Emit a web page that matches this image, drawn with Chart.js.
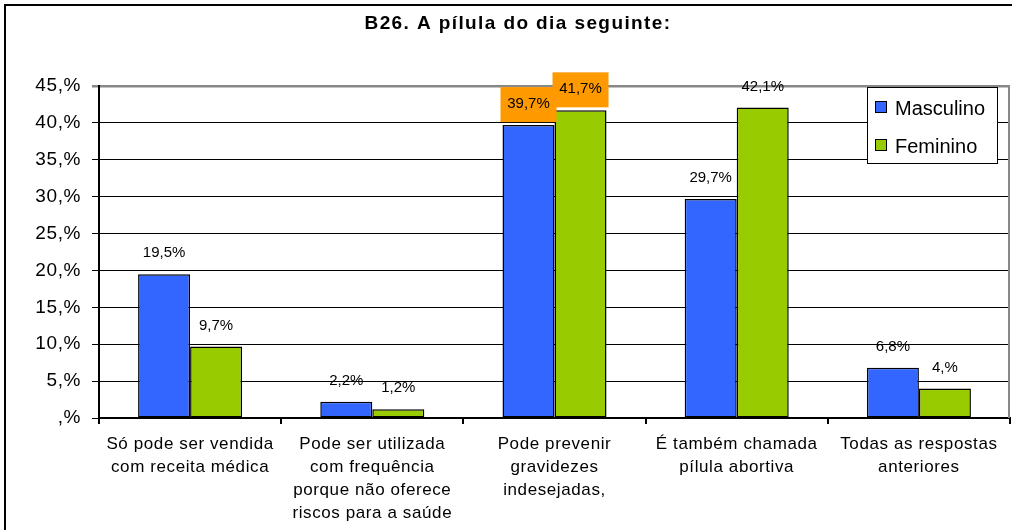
<!DOCTYPE html>
<html><head><meta charset="utf-8">
<script src="https://cdn.jsdelivr.net/npm/chart.js@4/dist/chart.umd.min.js"></script>
<style>html,body{margin:0;padding:0;background:#fff;overflow:hidden}#wrap{width:1012px;height:530px;position:relative}</style>
</head><body><div id="wrap"><canvas id="c" width="1012" height="530"></canvas></div>
<script>
const title = 'B26. A pílula do dia seguinte:';
const categories = [
  ['Só pode ser vendida','com receita médica'],
  ['Pode ser utilizada','com frequência','porque não oferece','riscos para a saúde'],
  ['Pode prevenir','gravidezes','indesejadas,'],
  ['É também chamada','pílula abortiva'],
  ['Todas as respostas','anteriores']
];
const masculino = [19.5, 2.2, 39.7, 29.7, 6.8];
const feminino = [9.7, 1.2, 41.7, 42.1, 4.0];
const masculinoLabels = ['19,5%','2,2%','39,7%','29,7%','6,8%'];
const femininoLabels = ['9,7%','1,2%','41,7%','42,1%','4,%'];
const highlighted = [[false,false,true,false,false],[false,false,true,false,false]];
const seriesNames = ['Masculino','Feminino'];
const yTicks = [0,5,10,15,20,25,30,35,40,45];
const colors = ['#3366FF','#99CC00'];
const FONT = '"Liberation Sans", Arial, sans-serif';

const decor = {
  id:'decor',
  beforeDraw(chart){
    const ctx = chart.ctx;
    ctx.fillStyle='#fff'; ctx.fillRect(0,0,chart.width,chart.height);
    ctx.letterSpacing = '0.6px';
  },
  afterDraw(chart){
    const ctx = chart.ctx;
    const labels = [masculinoLabels, femininoLabels];
    ctx.save();
    ctx.letterSpacing = '0px';
    // frame
    ctx.strokeStyle='#000'; ctx.lineWidth=2;
    ctx.strokeRect(5,5,1012,540);
    // right plot border
    const ca = chart.chartArea;
    ctx.strokeStyle='#888'; ctx.lineWidth=2;
    ctx.beginPath(); ctx.moveTo(ca.right-1, ca.top); ctx.lineTo(ca.right-1, ca.bottom); ctx.stroke();
    // title
    ctx.fillStyle='#000'; ctx.font='bold 19px '+FONT; ctx.textAlign='center'; ctx.textBaseline='middle';
    ctx.letterSpacing = '1.4px';
    ctx.fillText(title, 518, 24);
    ctx.letterSpacing = '0px';
    // data labels
    ctx.font='15px '+FONT;
    chart.data.datasets.forEach((ds,di)=>{
      chart.getDatasetMeta(di).data.forEach((bar,i)=>{
        const x = bar.x, y = bar.y - 21;
        const t = labels[di][i];
        if (highlighted[di][i]) {
          ctx.fillStyle='#FF9900';
          ctx.fillRect(x-28, y-17, 56, 35);
        }
        ctx.fillStyle='#000';
        ctx.fillText(t, x, y);
      });
    });
    // legend
    const lx=867, ly=87, lw=130, lh=76;
    ctx.fillStyle='#fff'; ctx.fillRect(lx,ly,lw,lh);
    ctx.strokeStyle='#000'; ctx.lineWidth=1; ctx.strokeRect(lx+0.5,ly+0.5,lw,lh);
    ctx.font='20px '+FONT; ctx.textAlign='left';
    seriesNames.forEach((n,k)=>{
      const cy = 108 + k*38;
      ctx.fillStyle=colors[k]; ctx.fillRect(875, cy-6, 11, 11);
      ctx.strokeStyle='#000'; ctx.lineWidth=1; ctx.strokeRect(875.5, cy-6.5, 11, 11);
      ctx.fillStyle='#000'; ctx.fillText(n, 895, cy+1);
    });
    ctx.restore();
  }
};

new Chart(document.getElementById('c'), {
  type:'bar',
  data:{
    labels: categories,
    datasets:[
      {label:seriesNames[0], data:masculino, backgroundColor:colors[0], borderColor:'#000', borderWidth:1.5, borderSkipped:false, categoryPercentage:0.571, barPercentage:1},
      {label:seriesNames[1], data:feminino, backgroundColor:colors[1], borderColor:'#000', borderWidth:1.5, borderSkipped:false, categoryPercentage:0.571, barPercentage:1}
    ]
  },
  options:{
    responsive:false, animation:false, devicePixelRatio:1,
    layout:{padding:{top:86, right:2, left:0, bottom:0}},
    plugins:{legend:{display:false}, title:{display:false}, tooltip:{enabled:false}},
    scales:{
      x:{
        offset:true,
        grid:{offset:true, drawOnChartArea:false, drawTicks:true, tickLength:6, color:'#000', lineWidth:2},
        border:{color:'#000', width:2},
        ticks:{color:'#000', font:{family:FONT, size:17, lineHeight:1.35}, padding:9, maxRotation:0, autoSkip:false},
        afterFit(s){ s.height = 112; }
      },
      y:{
        min:0, max:45,
        afterBuildTicks(s){ s.ticks = yTicks.map(v=>({value:v})); },
        grid:{
          color:(c)=> c.tick && c.tick.value===45 ? '#888' : '#000',
          lineWidth:(c)=> c.tick && c.tick.value===45 ? 2.5 : 1,
          tickLength:7, drawTicks:true
        },
        border:{color:'#000', width:2},
        ticks:{color:'#000', font:{family:FONT, size:19}, padding:11,
          callback:(v)=> (v===0 ? '' : v) + ',%'},
        afterFit(s){ s.width = 99; }
      }
    }
  },
  plugins:[decor]
});
</script></body></html>
